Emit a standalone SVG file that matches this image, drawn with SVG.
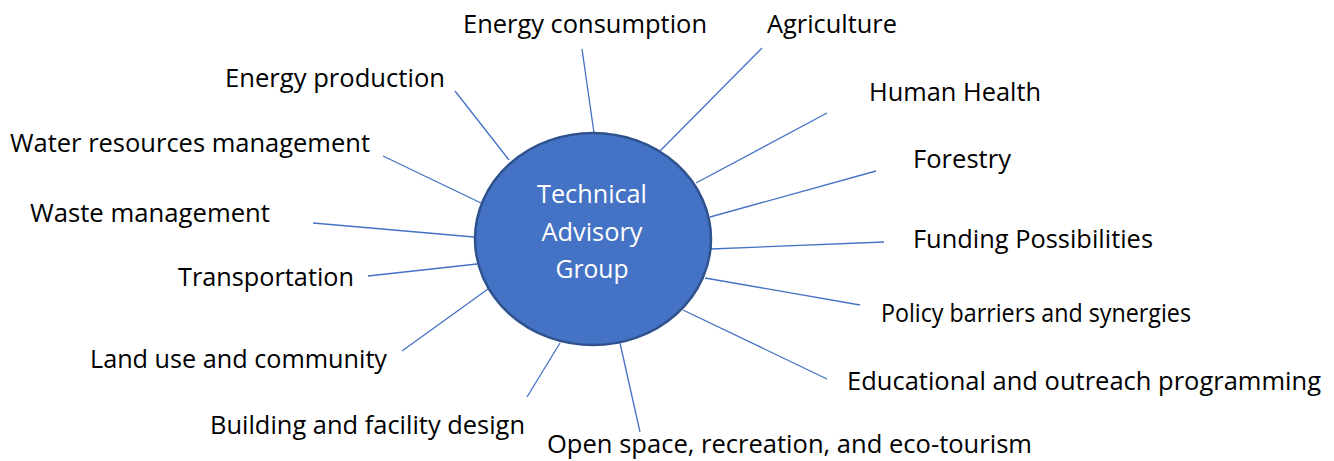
<svg xmlns="http://www.w3.org/2000/svg" width="1334" height="461" viewBox="0 0 1334 461">
<style>
.lbl{font-family:"Open Sans","Noto Sans","Liberation Sans",sans-serif;font-size:26px;fill:#000}
.ctr{font-family:"Open Sans","Noto Sans","Liberation Sans",sans-serif;font-size:26px;fill:#fff;text-anchor:middle}
.ln{stroke:#4472C4;stroke-width:1.3;fill:none}
</style>
<rect width="1334" height="461" fill="#fff"/>
<g id="connectors">
<line class="ln" x1="582" y1="49" x2="594" y2="133"/>
<line class="ln" x1="762" y1="48" x2="660" y2="151"/>
<line class="ln" x1="455" y1="91" x2="509" y2="160"/>
<line class="ln" x1="827" y1="113" x2="696" y2="183"/>
<line class="ln" x1="383" y1="156" x2="481" y2="203"/>
<line class="ln" x1="876" y1="171" x2="710" y2="217"/>
<line class="ln" x1="313" y1="223" x2="474" y2="237"/>
<line class="ln" x1="884" y1="242" x2="711" y2="249"/>
<line class="ln" x1="368" y1="276" x2="477" y2="264"/>
<line class="ln" x1="860" y1="305" x2="705" y2="278"/>
<line class="ln" x1="402" y1="351" x2="488" y2="289"/>
<line class="ln" x1="827" y1="379" x2="683" y2="310"/>
<line class="ln" x1="527" y1="397" x2="560" y2="343"/>
<line class="ln" x1="640" y1="432" x2="620" y2="343"/>
</g>
<g id="center">
<ellipse cx="593" cy="239" rx="118" ry="106" fill="#4472C4" stroke="#2F528F" stroke-width="2.5"/>
<text class="ctr" x="592" y="203" textLength="110" lengthAdjust="spacingAndGlyphs">Technical</text>
<text class="ctr" x="592" y="241" textLength="101" lengthAdjust="spacingAndGlyphs">Advisory</text>
<text class="ctr" x="592" y="278" textLength="73" lengthAdjust="spacingAndGlyphs">Group</text>
</g>
<g id="energy-consumption"><text class="lbl" x="463" y="33" textLength="244" lengthAdjust="spacingAndGlyphs">Energy consumption</text></g>
<g id="agriculture"><text class="lbl" x="767" y="33" textLength="130" lengthAdjust="spacingAndGlyphs">Agriculture</text></g>
<g id="energy-production"><text class="lbl" x="225" y="87" textLength="220" lengthAdjust="spacingAndGlyphs">Energy production</text></g>
<g id="human-health"><text class="lbl" x="869" y="101" textLength="172" lengthAdjust="spacingAndGlyphs">Human Health</text></g>
<g id="water"><text class="lbl" x="10" y="152" textLength="360" lengthAdjust="spacingAndGlyphs">Water resources management</text></g>
<g id="forestry"><text class="lbl" x="913" y="168" textLength="98" lengthAdjust="spacingAndGlyphs">Forestry</text></g>
<g id="waste"><text class="lbl" x="30" y="222" textLength="240" lengthAdjust="spacingAndGlyphs">Waste management</text></g>
<g id="funding"><text class="lbl" x="913" y="248" textLength="240" lengthAdjust="spacingAndGlyphs">Funding Possibilities</text></g>
<g id="transportation"><text class="lbl" x="178" y="286" textLength="176" lengthAdjust="spacingAndGlyphs">Transportation</text></g>
<g id="policy"><text class="lbl" x="881" y="322" textLength="310" lengthAdjust="spacingAndGlyphs">Policy barriers and synergies</text></g>
<g id="land-use"><text class="lbl" x="90" y="368" textLength="297" lengthAdjust="spacingAndGlyphs">Land use and community</text></g>
<g id="educational"><text class="lbl" x="847" y="390" textLength="474" lengthAdjust="spacingAndGlyphs">Educational and outreach programming</text></g>
<g id="building"><text class="lbl" x="210" y="434" textLength="315" lengthAdjust="spacingAndGlyphs">Building and facility design</text></g>
<g id="open-space"><text class="lbl" x="547" y="453" textLength="485" lengthAdjust="spacingAndGlyphs">Open space, recreation, and eco-tourism</text></g>
</svg>
